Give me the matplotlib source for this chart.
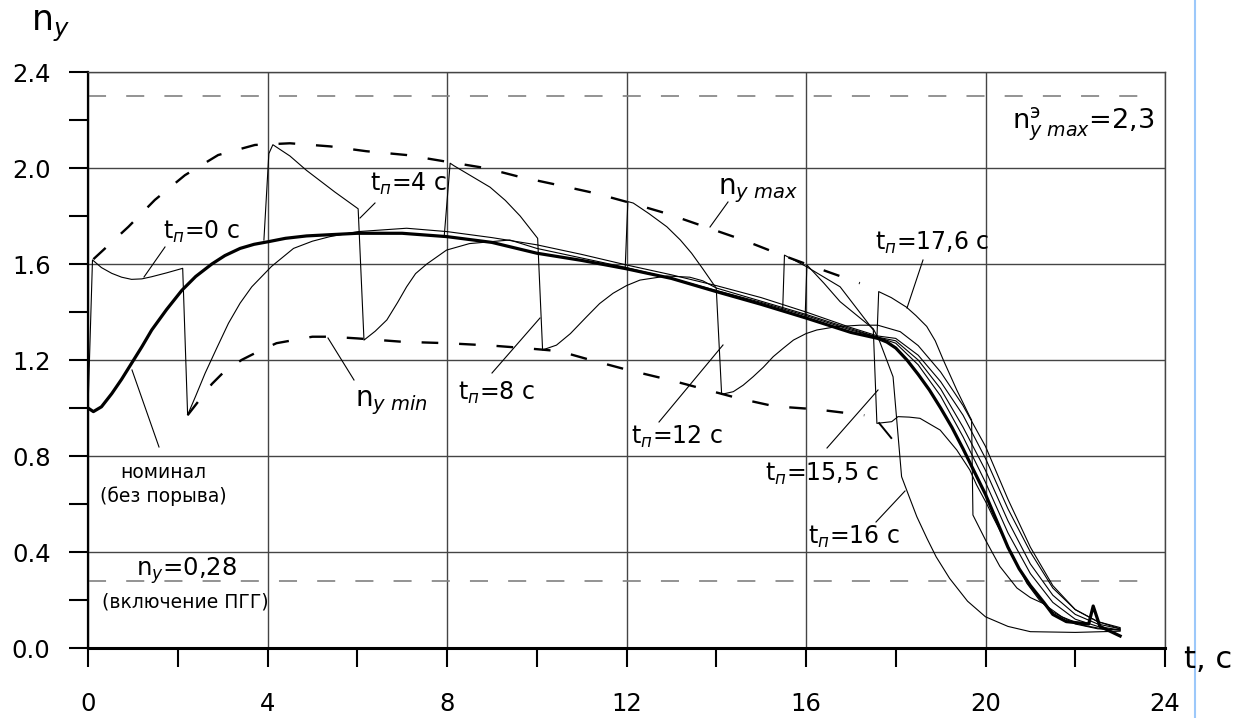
import matplotlib
matplotlib.use("Agg")
import matplotlib.pyplot as plt
from matplotlib.lines import Line2D

plt.rcParams['font.family'] = ['DejaVu Sans']
plt.rcParams['mathtext.fontset'] = 'dejavusans'
plt.rcParams['lines.scale_dashes'] = False

# nominal flight (no gust)
nom_t = [0, 0.12, 0.3, 0.53, 0.75, 0.97, 1.2, 1.42, 1.75, 2.09, 2.4, 2.76, 3.05, 3.39, 3.7, 4.02, 4.4,
         4.87, 6.0, 7.0, 8.0, 9.0, 10.0, 11.0, 12.0, 13.0, 14.0, 15.0, 16.0, 17.0, 17.6, 17.8, 18.0,
         18.25, 18.5, 18.75, 19.0, 19.25, 19.5, 19.75, 20.0, 20.25, 20.5, 20.75, 21.0, 21.3, 21.5,
         21.8, 22.3, 22.4, 22.55, 23.0]
nom_n = [1.0, 0.985, 1.005, 1.06, 1.12, 1.186, 1.255, 1.325, 1.41, 1.49, 1.548, 1.60, 1.635, 1.665,
         1.682, 1.693, 1.707, 1.717, 1.728, 1.728, 1.714, 1.69, 1.645, 1.615, 1.58, 1.54, 1.485,
         1.432, 1.375, 1.315, 1.29, 1.275, 1.25, 1.2, 1.14, 1.075, 1.0, 0.92, 0.83, 0.735, 0.64,
         0.53, 0.42, 0.33, 0.26, 0.19, 0.14, 0.11, 0.10, 0.175, 0.09, 0.05]

# gust cases, t_п = start of gust
tp0_t = [0, 0.1, 0.3, 0.53, 0.75, 0.97, 1.2, 1.42, 1.75, 2.11, 2.22, 2.4, 2.61, 2.87, 3.13, 3.39,
         3.65, 4.09, 4.58, 5.0, 5.39, 6.02, 7.1, 8.0, 9.0, 10.0, 11.0, 12.0, 13.0, 14.0, 15.0, 16.0,
         17.0, 17.6, 18.0, 18.5, 19.0, 19.5, 20.0, 20.5, 21.0, 21.5, 22.0, 22.5, 23.0]
tp0_n = [1.0, 1.617, 1.585, 1.561, 1.545, 1.536, 1.538, 1.547, 1.563, 1.582, 0.971, 1.05, 1.145,
         1.25, 1.353, 1.437, 1.505, 1.59, 1.665, 1.695, 1.714, 1.735, 1.749, 1.735, 1.71, 1.68, 1.64,
         1.596, 1.555, 1.51, 1.46, 1.40, 1.335, 1.30, 1.29, 1.22, 1.11, 0.97, 0.79, 0.58, 0.40,
         0.25, 0.16, 0.11, 0.08]

tp4_t = [3.92, 4.03, 4.12, 4.5, 4.87, 5.5, 6.02, 6.15, 6.4, 6.66, 6.9, 7.1, 7.3, 7.55, 7.99, 8.5,
         9.4, 10.0, 11.0, 12.0, 13.0, 14.0, 15.0, 16.0, 17.0, 17.6, 18.0, 18.5, 19.0, 19.5, 20.0,
         20.5, 21.0, 21.5, 22.0, 22.5, 23.0]
tp4_n = [1.70, 2.06, 2.097, 2.05, 1.99, 1.90, 1.83, 1.283, 1.32, 1.367, 1.44, 1.505, 1.56, 1.60,
         1.658, 1.685, 1.70, 1.665, 1.625, 1.585, 1.54, 1.49, 1.44, 1.385, 1.325, 1.295, 1.28, 1.20,
         1.08, 0.92, 0.74, 0.53, 0.35, 0.22, 0.14, 0.10, 0.08]

tp8_t = [7.94, 8.07, 8.15, 8.96, 9.3, 9.63, 10.02, 10.13, 10.44, 10.75, 11.11, 11.4, 11.7, 12.0,
         12.3, 12.9, 13.41, 13.7, 14.0, 15.0, 16.0, 17.0, 17.6, 18.0, 18.5, 19.0, 19.5, 20.0, 20.5,
         21.0, 21.5, 22.0, 22.5, 23.0]
tp8_n = [1.72, 2.02, 2.01, 1.92, 1.865, 1.80, 1.707, 1.242, 1.262, 1.31, 1.38, 1.435, 1.478, 1.51,
         1.533, 1.55, 1.545, 1.53, 1.50, 1.445, 1.39, 1.33, 1.295, 1.27, 1.18, 1.05, 0.88, 0.69,
         0.48, 0.31, 0.19, 0.12, 0.09, 0.075]

tp12_t = [11.97, 12.03, 12.15, 12.5, 12.9, 13.2, 13.45, 13.7, 13.9, 14.0, 14.12, 14.38, 14.6, 14.82,
          15.05, 15.27, 15.5, 15.72, 16.0, 16.24, 16.68, 17.2, 17.6, 18.1, 18.5, 19.0, 19.5, 20.0,
          20.5, 21.0, 21.5, 22.0, 22.5, 23.0]
tp12_n = [1.58, 1.86, 1.854, 1.81, 1.755, 1.70, 1.645, 1.58, 1.526, 1.499, 1.057, 1.068, 1.095,
          1.13, 1.17, 1.214, 1.25, 1.283, 1.31, 1.325, 1.339, 1.345, 1.345, 1.318, 1.26, 1.15, 1.01,
          0.84, 0.62, 0.42, 0.26, 0.16, 0.11, 0.085]

tp155_t = [15.48, 15.52, 16.0, 16.76, 17.5, 17.58, 17.91, 18.05, 18.3, 18.54, 18.99, 19.36, 19.65,
           19.8, 20.03, 20.17, 20.32, 20.47, 20.62, 20.77, 20.92, 21.2, 21.5, 22.0, 22.5, 23.0]
tp155_n = [1.408, 1.637, 1.59, 1.505, 1.325, 0.936, 0.943, 0.964, 0.962, 0.957, 0.908, 0.825, 0.742,
           0.68, 0.60, 0.545, 0.49, 0.435, 0.38, 0.325, 0.27, 0.2, 0.15, 0.10, 0.08, 0.075]
stub_t = [17.63, 17.9]
stub_n = [0.937, 0.875]

tp16_t = [15.98, 16.02, 16.4, 16.76, 17.5, 17.63, 17.94, 18.13, 18.3, 18.47, 18.7, 18.9, 19.2, 19.6,
          20.0, 20.5, 21.0, 22.0, 23.0]
tp16_n = [1.375, 1.596, 1.52, 1.443, 1.33, 1.283, 1.13, 0.714, 0.63, 0.547, 0.455, 0.38, 0.29,
          0.195, 0.13, 0.09, 0.068, 0.065, 0.07]

tp176_t = [17.58, 17.62, 17.9, 18.24, 18.45, 18.69, 18.88, 19.06, 19.36, 19.65, 19.69, 19.72, 20.0,
           20.32, 20.7, 21.0, 21.28, 21.7, 22.17, 22.6, 23.0]
tp176_n = [1.29, 1.485, 1.46, 1.42, 1.385, 1.34, 1.28, 1.2, 1.075, 0.964, 0.95, 0.554, 0.45, 0.34,
           0.25, 0.21, 0.186, 0.13, 0.095, 0.08, 0.075]

# envelopes
max_t = [0.12, 0.9, 1.49, 2.16, 2.9, 3.72, 4.5, 5.4, 6.2, 7.1, 8.0, 8.85, 9.6, 10.45, 11.3, 12.1,
         12.9, 13.75, 14.6, 15.35, 16.15, 17.2]
max_n = [1.62, 1.755, 1.867, 1.97, 2.054, 2.096, 2.103, 2.09, 2.07, 2.054, 2.026, 2.0, 1.964, 1.93,
         1.895, 1.854, 1.81, 1.755, 1.70, 1.645, 1.59, 1.52]
min_t = [2.22, 2.76, 3.0, 3.42, 3.79, 4.2, 5.0, 5.4, 6.0, 7.0, 8.0, 9.0, 9.7, 10.5, 11.2, 12.0,
         13.0, 13.7, 14.5, 15.3, 16.2, 17.3]
min_n = [0.97, 1.10, 1.145, 1.2, 1.235, 1.27, 1.297, 1.297, 1.29, 1.276, 1.27, 1.26, 1.25, 1.237,
         1.2, 1.16, 1.115, 1.08, 1.04, 1.007, 0.995, 0.97]

ref_levels = [2.3, 0.28]
ref_span = [0, 23.6]

fig = plt.figure(figsize=(12.49, 7.18), dpi=100)
ax = fig.add_axes([88/1249, 70/718, 1077/1249, 576/718])

grid_c = '#444444'
for lv in ref_levels:
    ax.plot(ref_span, [lv, lv], color='#808080', lw=1.2, dashes=(13, 14.5))

thin = dict(color='black', lw=0.8)
for tt, nn in [(tp0_t, tp0_n), (tp4_t, tp4_n), (tp8_t, tp8_n), (tp12_t, tp12_n),
               (tp155_t, tp155_n), (tp16_t, tp16_n), (tp176_t, tp176_n)]:
    ax.plot(tt, nn, **thin)
ax.plot(stub_t, stub_n, color='black', lw=1.4)
ax.plot(max_t, max_n, color='black', lw=1.7, dashes=(12, 15))
ax.plot(min_t, min_n, color='black', lw=1.7, dashes=(12, 15))
ax.plot(nom_t, nom_n, color='black', lw=2.3)

ax.set_xlim(0, 24)
ax.set_ylim(0, 2.4)
ax.set_xticks([0, 4, 8, 12, 16, 20, 24])
ax.set_xticks([2, 6, 10, 14, 18, 22], minor=True)
ax.set_yticks([0, 0.4, 0.8, 1.2, 1.6, 2.0, 2.4])
ax.set_yticks([0.2, 0.6, 1.0, 1.4, 1.8, 2.2], minor=True)
ax.set_yticklabels(['0.0', '0.4', '0.8', '1.2', '1.6', '2.0', '2.4'])
ax.tick_params(which='both', direction='out', length=14, width=1.5, color='black')
ax.tick_params(axis='y', which='major', labelsize=17.5, pad=13)
ax.tick_params(axis='x', which='major', labelsize=17.5, pad=18)
ax.grid(True, which='major', color=grid_c, lw=1.0)
ax.set_axisbelow(True)
ax.spines['bottom'].set_linewidth(2.2)
ax.spines['left'].set_linewidth(1.6)
for s in ['top', 'right']:
    ax.spines[s].set_color(grid_c)
    ax.spines[s].set_linewidth(1.0)


def px(x, y):
    return (x - 88) / 44.875, (648 - y) / 240


def leader(p1, p2):
    a, b = px(*p1), px(*p2)
    ax.plot([a[0], b[0]], [a[1], b[1]], color='black', lw=0.8)


labels = [
    (r'$\mathrm{t}_{п}$=0 c', 163, 239, 17),
    (r'$\mathrm{t}_{п}$=4 c', 370, 191, 17),
    (r'$\mathrm{t}_{п}$=8 c', 458, 400, 17),
    (r'$\mathrm{t}_{п}$=12 c', 631, 444, 17),
    (r'$\mathrm{t}_{п}$=15,5 c', 765, 481, 17),
    (r'$\mathrm{t}_{п}$=16 c', 808, 544, 17),
    (r'$\mathrm{t}_{п}$=17,6 c', 875, 250, 17),
    (r'$\mathrm{n}_{y\ max}$', 718, 194, 20),
    (r'$\mathrm{n}_{y\ min}$', 355, 406, 20),
    (r'$\mathrm{n}^{\mathrm{э}}_{y\ max}$=2,3', 1012, 129, 19.5),
    (r'$\mathrm{n}_{y}$=0,28', 136, 576, 17.5),
]
for s, x, y, fs in labels:
    xx, yy = px(x, y)
    ax.text(xx, yy, s, fontsize=fs, ha='left', va='baseline')

for s, x, y in [('номинал', 163, 478), ('(без порыва)', 163, 502), ('(включение ПГГ)', 185, 607)]:
    xx, yy = px(x, y)
    ax.text(xx, yy, s, fontsize=13.5, ha='center', va='baseline')

leader((165, 247), (144, 277))
leader((132, 370), (159, 447))
leader((375, 203), (360, 218))
leader((728, 202), (710, 227))
leader((328, 338), (354, 380))
leader((492, 373), (540, 318))
leader((659, 422), (723, 345))
leader((827, 448), (878, 390))
leader((876, 522), (905, 491))
leader((923, 260), (907, 308))

fig.text(31/1249, 1 - 31/718, r'$\mathrm{n}_{y}$', fontsize=25, ha='left', va='baseline')
fig.text(1184/1249, 1 - 668/718, 't, c', fontsize=22, ha='left', va='baseline')
fig.add_artist(Line2D([1194.5/1249, 1194.5/1249], [0, 1], color='#9cc8fa', lw=1.5))

fig.savefig('out.png', dpi=100)
